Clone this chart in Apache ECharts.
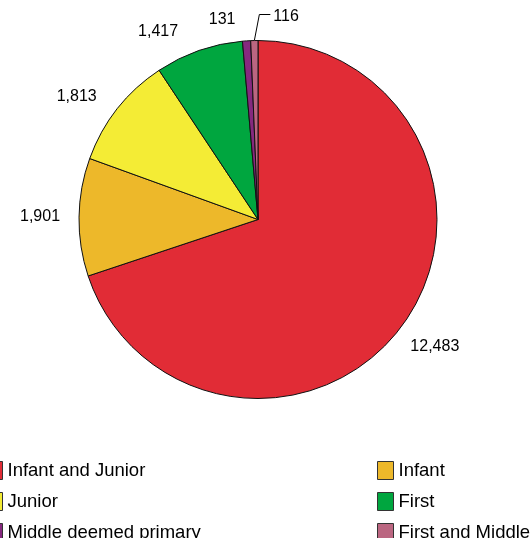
<!DOCTYPE html>
<html>
<head>
<meta charset="utf-8">
<script src="https://cdn.jsdelivr.net/npm/echarts@6/dist/echarts.min.js"></script>
<style>
  html, body { margin: 0; padding: 0; background: #ffffff; }
  #chart { width: 532px; height: 538px; }
</style>
</head>
<body>
<div id="chart"></div>
<script>
// School types and pupil counts
const categories = ['Infant and Junior', 'Infant', 'Junior', 'First', 'Middle deemed primary', 'First and Middle'];
const pupils = [12483, 1901, 1813, 1417, 131, 116];
const colors = ['#E12C36', '#EDB82A', '#F4EC35', '#00A63F', '#86297F', '#BB6681'];

// Pie geometry (px)
const CX = 258, CY = 219.5, R = 179;
const LABEL_R = R + 39;
// Small nudges for the crowded labels near the top
const labelNudge = { 2: [-10, 12], 3: [-28, 18], 4: [-22, 18] };

const total = pupils.reduce((a, b) => a + b, 0);
// mid angle of each slice, clockwise from 12 o'clock (radians)
const midAngles = [];
{
  let acc = 0;
  pupils.forEach(v => {
    midAngles.push((acc + v / 2) / total * Math.PI * 2);
    acc += v;
  });
}

const fontFamily = '"Liberation Sans", Arial, Helvetica, sans-serif';

const pieData = categories.map((name, i) => ({
  name: name,
  value: pupils[i],
  itemStyle: { color: colors[i] },
  labelLine: { show: i === 5, lineStyle: { color: '#000', width: 1 } }
}));

const chart = echarts.init(document.getElementById('chart'), null, { renderer: 'canvas' });

const legendBase = {
  orient: 'vertical',
  top: 456,
  height: 120,
  itemWidth: 16,
  itemHeight: 18,
  itemGap: 12,
  icon: 'rect',
  itemStyle: { borderColor: '#333', borderWidth: 1 },
  textStyle: { fontSize: 18.5, fontFamily: fontFamily, color: '#000' },
  selectedMode: false
};

chart.setOption({
  animation: false,
  backgroundColor: '#ffffff',
  legend: [
    Object.assign({}, legendBase, { left: -19, data: categories.filter((_, i) => i % 2 === 0) }),
    Object.assign({}, legendBase, { left: 372, data: categories.filter((_, i) => i % 2 === 1) })
  ],
  series: [{
    type: 'pie',
    center: [CX, CY],
    radius: R,
    startAngle: 90,
    clockwise: true,
    avoidLabelOverlap: false,
    silent: true,
    itemStyle: { borderColor: '#111', borderWidth: 1 },
    label: {
      show: true,
      position: 'outside',
      fontSize: 16,
      fontFamily: fontFamily,
      color: '#000',
      formatter: p => p.value.toLocaleString('en-US')
    },
    labelLine: { show: false },
    labelLayout: function (params) {
      const i = params.dataIndex;
      const a = midAngles[i];
      if (i === 5) {
        const x1 = CX + R * Math.sin(a);
        const y1 = CY - R * Math.cos(a);
        const yTop = CY - R - 26;
        return {
          x: x1 + 19,
          y: yTop + 2,
          align: 'left',
          verticalAlign: 'middle',
          labelLinePoints: [[x1, y1], [x1 + 5, yTop], [x1 + 16, yTop]]
        };
      }
      const n = labelNudge[i] || [0, 0];
      return {
        x: CX + LABEL_R * Math.sin(a) + n[0],
        y: CY - LABEL_R * Math.cos(a) + n[1],
        align: 'center',
        verticalAlign: 'middle'
      };
    },
    data: pieData
  }]
});
</script>
</body>
</html>
